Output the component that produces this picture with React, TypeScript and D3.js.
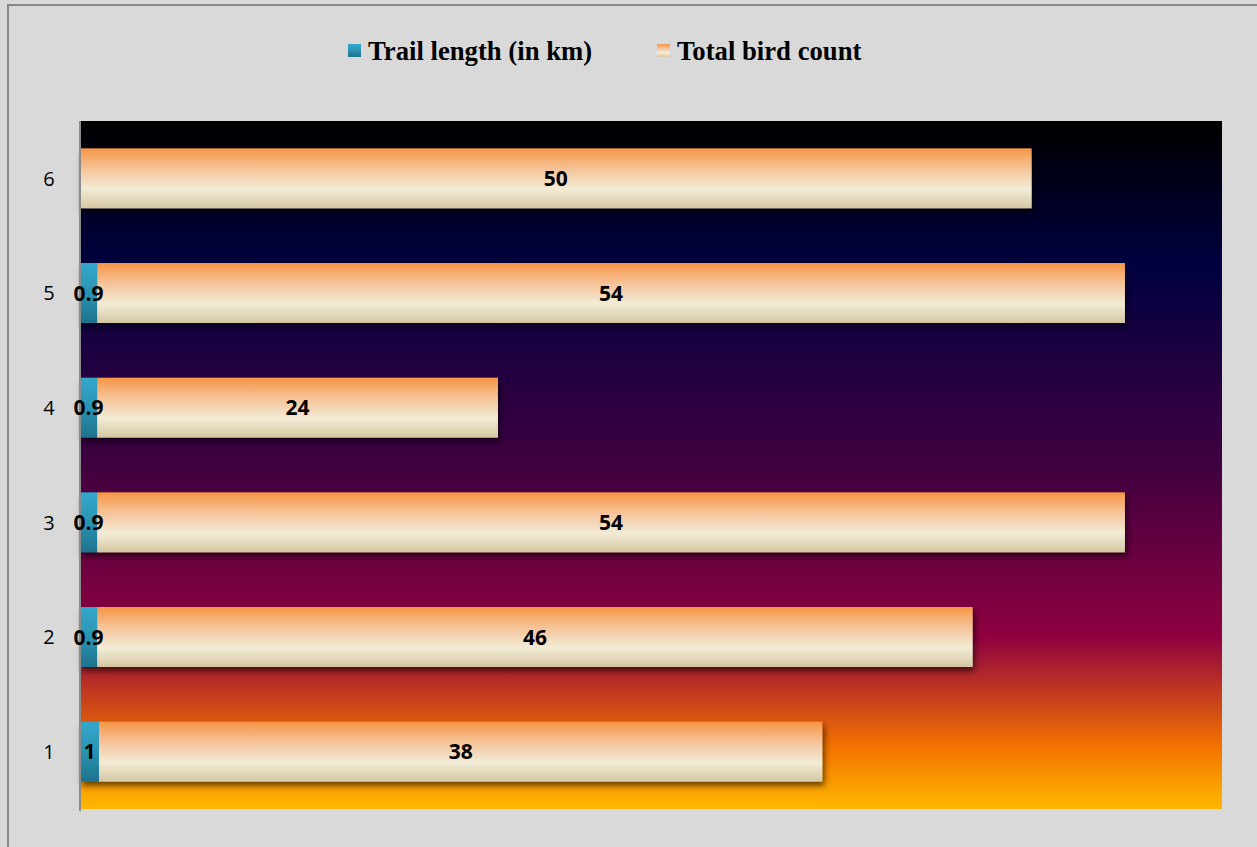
import React from "react";
import * as d3 from "d3";

const categories = ["1", "2", "3", "4", "5", "6"];
const trailLength: (number | null)[] = [1, 0.9, 0.9, 0.9, 0.9, null];
const birdCount = [38, 46, 54, 21.06, 54, 50];
const birdLabels = ["38", "46", "54", "24", "54", "50"];
const seriesNames = ["Trail length (in km)", "Total bird count"];

const W = 1257;
const H = 847;
const plot = { left: 80, right: 1222, top: 121, bottom: 809 };

export default function App() {
  const x = d3.scaleLinear().domain([0, 60]).range([plot.left, plot.right]);
  const y = d3
    .scaleBand<string>()
    .domain(categories)
    .range([plot.bottom, plot.top])
    .paddingInner(0.477)
    .paddingOuter(0.2385);

  const rows = categories.map((c, i) => {
    const t = trailLength[i] ?? 0;
    return { c, t, hasT: trailLength[i] != null, b: birdCount[i], lbl: birdLabels[i] };
  });

  const bgStops = [
    [0, "#000000"],
    [0.21, "#000040"],
    [0.5, "#400040"],
    [0.75, "#8f0040"],
    [0.91, "#f27300"],
    [1, "#ffb800"],
  ];

  return (
    <svg
      width={W}
      height={H}
      style={{ position: "absolute", left: 0, top: 0 }}
      xmlns="http://www.w3.org/2000/svg"
    >
      <defs>
        <linearGradient id="bg" x1="0" y1="0" x2="0" y2="1">
          {bgStops.map(([o, c], i) => (
            <stop key={i} offset={o as number} stopColor={c as string} />
          ))}
        </linearGradient>
        <linearGradient id="peach" x1="0" y1="0" x2="0" y2="1">
          <stop offset="0" stopColor="#f79646" />
          <stop offset="0.35" stopColor="#f5c49a" />
          <stop offset="0.68" stopColor="#f2ecd6" />
          <stop offset="1" stopColor="#d5c7a2" />
        </linearGradient>
        <linearGradient id="teal" x1="0" y1="0" x2="0" y2="1">
          <stop offset="0" stopColor="#33a8cc" />
          <stop offset="0.5" stopColor="#2b93b3" />
          <stop offset="1" stopColor="#1e728c" />
        </linearGradient>
        <filter id="shadow" x="-5%" y="-30%" width="110%" height="170%">
          <feDropShadow dx="2" dy="4" stdDeviation="3" floodColor="#000" floodOpacity="0.6" />
        </filter>
      </defs>

      <rect x={0} y={0} width={W} height={H} fill="#d9d9d9" />
      <rect x={8} y={5} width={W + 10} height={H + 10} fill="none" stroke="#868686" strokeWidth={2} />

      {/* legend */}
      <g fontFamily="'Liberation Serif', 'Times New Roman', serif" fontWeight="bold" fontSize={26.7}>
        <rect x={348} y={44} width={13} height={13} fill="url(#teal)" />
        <text x={368} y={60} fill="#000">{seriesNames[0]}</text>
        <rect x={657} y={44} width={13} height={13} fill="url(#peach)" />
        <text x={677} y={60} fill="#000">{seriesNames[1]}</text>
      </g>

      {/* plot background */}
      <rect
        x={plot.left}
        y={plot.top}
        width={plot.right - plot.left}
        height={plot.bottom - plot.top}
        fill="url(#bg)"
      />

      {/* bars */}
      {rows.map((r) => {
        const y0 = y(r.c)!;
        const bh = y.bandwidth();
        return (
          <g key={r.c} filter="url(#shadow)">
            {r.hasT && (
              <rect x={x(0)} y={y0} width={x(r.t) - x(0)} height={bh} fill="url(#teal)" />
            )}
            <rect x={x(r.t)} y={y0} width={x(r.t + r.b) - x(r.t)} height={bh} fill="url(#peach)" />
          </g>
        );
      })}

      {/* axis line */}
      <line x1={plot.left} x2={plot.left} y1={plot.top} y2={plot.bottom + 2} stroke="#8c8c8c" strokeWidth={2} />

      {/* data labels */}
      <g fontFamily="'Open Sans', 'Noto Sans', sans-serif" fontWeight="bold" fontSize={21} fill="#000" textAnchor="middle">
        {rows.map((r) => {
          const cy = y(r.c)! + y.bandwidth() / 2;
          return (
            <g key={r.c}>
              {r.hasT && (
                <text x={(x(0) + x(r.t)) / 2} y={cy} dy="0.36em">
                  {String(r.t)}
                </text>
              )}
              <text x={(x(r.t) + x(r.t + r.b)) / 2} y={cy} dy="0.36em">
                {r.lbl}
              </text>
            </g>
          );
        })}
      </g>

      {/* category labels */}
      <g fontFamily="'Open Sans', 'Noto Sans', sans-serif" fontSize={20} fill="#000" textAnchor="middle">
        {categories.map((c) => (
          <text key={c} x={49} y={y(c)! + y.bandwidth() / 2} dy="0.36em">
            {c}
          </text>
        ))}
      </g>
    </svg>
  );
}
